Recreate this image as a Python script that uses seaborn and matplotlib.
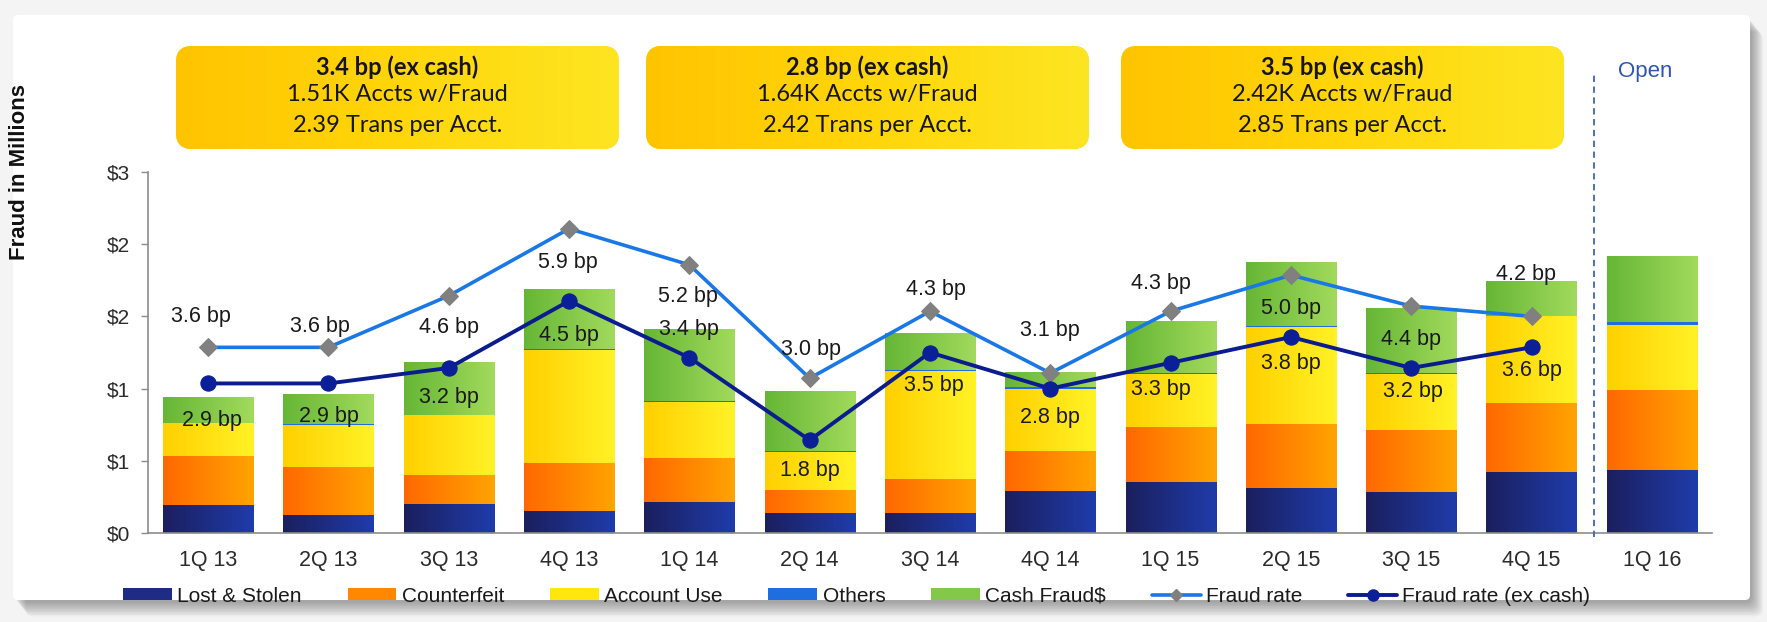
import numpy as np
import pandas as pd
import matplotlib
matplotlib.use("Agg")
import matplotlib.pyplot as plt
import seaborn as sns
from matplotlib.colors import LinearSegmentedColormap
from matplotlib.patches import FancyBboxPatch, Patch
from matplotlib.lines import Line2D
from matplotlib.ticker import FuncFormatter

# values ($ millions per quarter, rates in bp)
quarters = ["1Q 13", "2Q 13", "3Q 13", "4Q 13", "1Q 14", "2Q 14", "3Q 14",
            "4Q 14", "1Q 15", "2Q 15", "3Q 15", "4Q 15", "1Q 16"]
lost_stolen = [0.23, 0.15, 0.24, 0.18, 0.26, 0.17, 0.17, 0.35, 0.42, 0.375, 0.34, 0.51, 0.52]
counterfeit = [0.41, 0.40, 0.24, 0.40, 0.36, 0.19, 0.28, 0.33, 0.46, 0.53, 0.52, 0.57, 0.67]
account_use = [0.275, 0.35, 0.50, 0.94, 0.47, 0.31, 0.90, 0.52, 0.44, 0.81, 0.46, 0.72, 0.54]
others = [0.003, 0.003, 0.003, 0.008, 0.003, 0.008, 0.008, 0.01, 0.008, 0.003, 0.008, 0.006, 0.022]
cash_fraud = [0.215, 0.25, 0.435, 0.50, 0.60, 0.50, 0.30, 0.125, 0.43, 0.53, 0.54, 0.29, 0.55]

fraud_rate = [3.6, 3.6, 4.6, 5.9, 5.2, 3.0, 4.3, 3.1, 4.3, 5.0, 4.4, 4.2]
fraud_rate_ex = [2.9, 2.9, 3.2, 4.5, 3.4, 1.8, 3.5, 2.8, 3.3, 3.8, 3.2, 3.6]

box_bp = ["3.4 bp (ex cash)", "2.8 bp (ex cash)", "3.5 bp (ex cash)"]
box_accts = ["1.51K Accts w/Fraud", "1.64K Accts w/Fraud", "2.42K Accts w/Fraud"]
box_trans = ["2.39 Trans per Acct.", "2.42 Trans per Acct.", "2.85 Trans per Acct."]

series_names = ["Lost & Stolen", "Counterfeit", "Account Use", "Others", "Cash Fraud$"]

# label placement (offset points) - layout only
rate_dx = [-5, -6, 0, -1, -1, 1, 4, 0, -7, 0, 0, -4]
rate_dy = [22, 15, -23, -24, -23, 21, 16, 31, 20, -24, -24, 30]
ex_dx = [3, 0, 0, 0, 0, 0, 3, 0, -7, 0, 1, 0]
ex_dy = [-27, -24, -21, -25, 20, -22, -24, -21, -19, -19, -17, -17]

# colours (left -> right gradient of each bar segment)
grad_cols = {
    "Lost & Stolen": ("#1b1f5e", "#1f3cab"),
    "Counterfeit": ("#ff6800", "#ffa400"),
    "Account Use": ("#ffd000", "#fff226"),
    "Others": ("#1f6ee0", "#1f6ee0"),
    "Cash Fraud$": ("#66b636", "#a2da5c"),
}
legend_cols = {"Lost & Stolen": "#1e2c86", "Counterfeit": "#ff8800", "Account Use": "#ffe60c",
               "Others": "#1f6ee0", "Cash Fraud$": "#84c849"}

W, H = 1767, 622

sns.set_style("white")
plt.rcParams["font.family"] = ["Liberation Sans", "DejaVu Sans"]

fig = plt.figure(figsize=(W / 100, H / 100), dpi=100, facecolor="#f4f4f4")

# slide card with a soft shadow, drawn in pixel coordinates
bg = fig.add_axes([0, 0, 1, 1], zorder=0)
bg.axis("off")
for k in range(10):
    bg.add_patch(FancyBboxPatch((15 + k * 1.2, 18 + k * 1.5), 1737, 585,
                                boxstyle="round,pad=0,rounding_size=8",
                                fc="black", ec="none", alpha=0.035))
bg.add_patch(FancyBboxPatch((13, 15), 1737, 585, boxstyle="round,pad=0,rounding_size=5",
                            fc="white", ec="none"))

# gold summary boxes
box_cmap = LinearSegmentedColormap.from_list("box", ["#ffc400", "#ffd60a", "#fde522"])
grad = np.linspace(0, 1, 128).reshape(1, -1)
box_lefts = [176, 646, 1121]
for left, t1, t2, t3 in zip(box_lefts, box_bp, box_accts, box_trans):
    bx = FancyBboxPatch((left, 46), 443, 103, boxstyle="round,pad=0,rounding_size=16",
                        fc="#ffd400", ec="none")
    bg.add_patch(bx)
    im = bg.imshow(grad, cmap=box_cmap, extent=[left, left + 443, 149, 46],
                   aspect="auto", interpolation="bilinear", zorder=2)
    im.set_clip_path(bx)
    cx = left + 221.5
    bg.text(cx, 67, t1, ha="center", va="center", fontsize=17, fontweight="bold",
            family=["Lato", "DejaVu Sans"], color="#151515", zorder=3)
    bg.text(cx, 94, t2, ha="center", va="center", fontsize=17,
            family=["Lato", "DejaVu Sans"], color="#151515", zorder=3)
    bg.text(cx, 126, t3, ha="center", va="center", fontsize=17,
            family=["Lato", "DejaVu Sans"], color="#151515", zorder=3)
bg.text(1645, 72, "Open", ha="center", va="center", fontsize=16, color="#2e54b4", zorder=3)
bg.set_xlim(0, W)
bg.set_ylim(H, 0)

fig.text(20 / W, 1 - 172 / H, "Fraud in Millions", rotation=90, ha="center", va="center",
         fontsize=16, fontweight="bold", color="#111111")

# main chart
ax = fig.add_axes([148 / W, 1 - 533 / H, (1712 - 148) / W, (533 - 172) / H], zorder=1)
ax.patch.set_visible(False)

df = pd.DataFrame({"quarter": quarters, "Lost & Stolen": lost_stolen, "Counterfeit": counterfeit,
                   "Account Use": account_use, "Others": others, "Cash Fraud$": cash_fraud})
cum = df[series_names].cumsum(axis=1)
cum["quarter"] = df["quarter"]

# stacked look: draw cumulative totals from the top layer down
for i, name in enumerate(reversed(series_names)):
    n0 = len(ax.patches)
    z = 2 + i * 0.1
    sns.barplot(data=cum, x="quarter", y=name, color=legend_cols[name], saturation=1,
                width=0.75, errorbar=None, ax=ax, zorder=z)
    cmap = LinearSegmentedColormap.from_list(name, list(grad_cols[name]))
    for p in ax.patches[n0:]:
        x0, y0, w, h = p.get_x(), p.get_y(), p.get_width(), p.get_height()
        p.set_edgecolor("none")
        gi = ax.imshow(grad, cmap=cmap, extent=[x0, x0 + w, y0, y0 + h], aspect="auto",
                       interpolation="bilinear", zorder=z + 0.05)
        gi.set_clip_path(p)

ax.set_xlabel("")
ax.set_ylabel("")
ax.set_xlim(-0.5, 12.5)
ax.set_ylim(0, 3)
ax.set_yticks(np.arange(0, 3.01, 0.6))
ax.yaxis.set_major_formatter(FuncFormatter(lambda v, p: f"${v:.0f}"))
sns.despine(ax=ax)
for s in ["left", "bottom"]:
    ax.spines[s].set_color("#8c8c8c")
    ax.spines[s].set_linewidth(1.2)
ax.tick_params(axis="y", left=True, length=5, width=1, color="#8c8c8c", pad=8,
               labelsize=15, labelcolor="#2b2b2b")
ax.tick_params(axis="x", bottom=False, length=0, pad=12, labelsize=15.5, labelcolor="#2b2b2b")

ax.plot([11.52, 11.52], [-0.03, 3.82], ls=(0, (3.5, 2.5)), color="#4063b8", lw=1.3,
        clip_on=False, zorder=6)

# rate lines on a hidden secondary axis (0-7 bp)
ax2 = ax.twinx()
ax2.set_zorder(2)
pos = np.arange(len(fraud_rate))
sns.lineplot(x=pos, y=fraud_rate, ax=ax2, color="#1a78e6", lw=2.6, marker="D", markersize=9.5,
             markerfacecolor="#808080", markeredgecolor="#808080", zorder=5)
sns.lineplot(x=pos, y=fraud_rate_ex, ax=ax2, color="#0b1c8e", lw=2.8, marker="o", markersize=11,
             markerfacecolor="#0a1f98", markeredgecolor="#0a1f98", zorder=6)
ax2.set_ylim(0, 7)
ax2.set_xlim(-0.5, 12.5)
ax2.axis("off")

for i, v in enumerate(fraud_rate):
    ax2.annotate(f"{v:.1f} bp", (i, v), xytext=(rate_dx[i], rate_dy[i]), textcoords="offset points",
                 ha="center", va="center", fontsize=15.5, color="#1a1a1a", zorder=7)
for i, v in enumerate(fraud_rate_ex):
    ax2.annotate(f"{v:.1f} bp", (i, v), xytext=(ex_dx[i], ex_dy[i]), textcoords="offset points",
                 ha="center", va="center", fontsize=15.5, color="#1a1a1a", zorder=7)

handles = [Patch(facecolor=legend_cols[n], edgecolor="none") for n in series_names]
handles += [Line2D([], [], color="#1a78e6", lw=2.6, marker="D", markersize=6,
                   markerfacecolor="#808080", markeredgecolor="#808080"),
            Line2D([], [], color="#0b1c8e", lw=2.8, marker="o", markersize=8,
                   markerfacecolor="#0a1f98", markeredgecolor="#0a1f98")]
labels = series_names + ["Fraud rate", "Fraud rate (ex cash)"]
fig.legend(handles, labels, loc="center left", bbox_to_anchor=(123 / W, 1 - 596 / H), ncol=7,
           frameon=False, fontsize=15, handlelength=2.35, handleheight=0.55, handletextpad=0.25,
           columnspacing=2.2, borderpad=0, borderaxespad=0, labelcolor="#1a1a1a")

fig.savefig("out.png", dpi=100, facecolor=fig.get_facecolor())
